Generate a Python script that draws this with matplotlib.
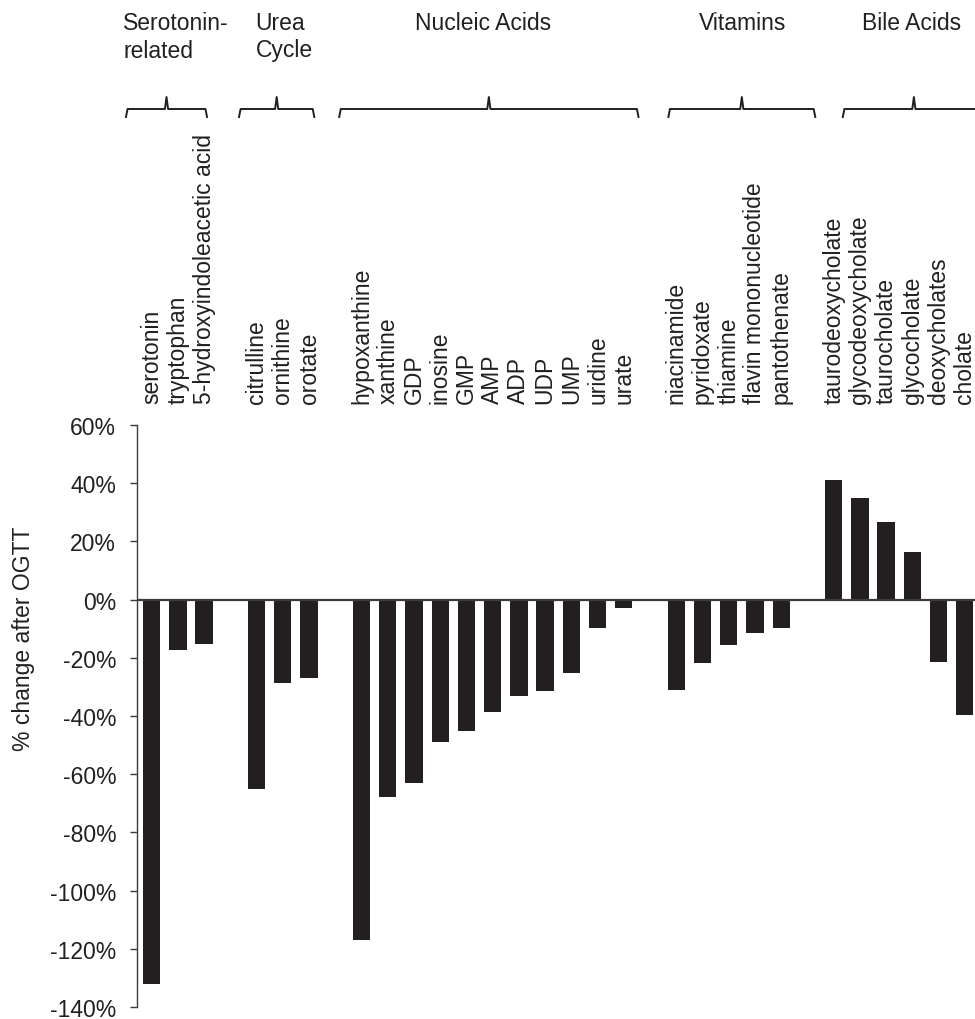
#!/usr/bin/env python3
"""Percent change of plasma metabolites after OGTT, grouped by pathway."""

import matplotlib
matplotlib.use("Agg")
import matplotlib.pyplot as plt
import matplotlib.transforms as mtransforms

# --- data ---------------------------------------------------------------
groups = ["Serotonin-\nrelated", "Urea\nCycle", "Nucleic Acids", "Vitamins", "Bile Acids"]

serotonin_names = ["serotonin", "tryptophan", "5-hydroxyindoleacetic acid"]
serotonin_vals = [-132, -17.3, -15.2]

urea_names = ["citrulline", "ornithine", "orotate"]
urea_vals = [-65, -28.8, -26.8]

nucleic_names = ["hypoxanthine", "xanthine", "GDP", "inosine", "GMP", "AMP",
                 "ADP", "UDP", "UMP", "uridine", "urate"]
nucleic_vals = [-117, -68, -63, -49, -45, -38.6, -33.2, -31.5, -25.3, -9.6, -3.0]

vitamin_names = ["niacinamide", "pyridoxate", "thiamine", "flavin mononucleotide",
                 "pantothenate"]
vitamin_vals = [-31.2, -21.8, -15.5, -11.4, -9.6]

bile_names = ["taurodeoxycholate", "glycodeoxycholate", "taurocholate",
              "glycocholate", "deoxycholates", "cholate"]
bile_vals = [41, 35, 26.5, 16.5, -21.5, -39.5]

yticks = [60, 40, 20, 0, -20, -40, -60, -80, -100, -120, -140]

# --- layout -------------------------------------------------------------
INK = "#231f20"
plt.rcParams["font.family"] = ["Liberation Sans", "DejaVu Sans"]
plt.rcParams["font.size"] = 16.5
plt.rcParams["text.color"] = INK

name_sets = [serotonin_names, urea_names, nucleic_names, vitamin_names, bile_names]
val_sets = [serotonin_vals, urea_vals, nucleic_vals, vitamin_vals, bile_vals]

# one empty slot between groups
xpos, names, vals = [], [], []
slot = 0
for nm, vl in zip(name_sets, val_sets):
    for n, v in zip(nm, vl):
        xpos.append(slot)
        names.append(n)
        vals.append(v)
        slot += 1
    slot += 1

# hand-placed brace extents and title centres (in slot units)
brace_spans = [(-0.98, 2.11), (3.33, 6.2), (7.15, 18.56), (19.7, 25.3), (26.35, 31.77)]
title_x = [0.93, 5.05, 12.62, 22.53, 28.98]

W, H = 975, 1020
fig = plt.figure(figsize=(W / 100, H / 100), dpi=100)
ax = fig.add_axes([137 / W, 12 / H, 838 / W, 582 / H])

ax.bar(xpos, vals, width=0.66, color=INK, zorder=2)
ax.axhline(0, color="#3c3c3c", lw=1.6, zorder=3)

ax.set_xlim(-0.56, 31.39)
ax.set_ylim(-140, 60)
ax.set_yticks(yticks)
ax.set_yticklabels([f"{t}%" for t in yticks])
for s in ["top", "right", "bottom"]:
    ax.spines[s].set_visible(False)
ax.spines["left"].set_color("#3c3c3c")
ax.spines["left"].set_linewidth(1.0)
ax.tick_params(axis="y", direction="out", length=5, width=1.0,
               color="#3c3c3c", pad=10, labelcolor=INK)

ax.set_xticks(xpos)
ax.set_xticklabels(names, rotation=90)
ax.tick_params(axis="x", top=True, bottom=False, labeltop=True,
               labelbottom=False, length=0, pad=16, labelcolor=INK)

ax.set_ylabel("% change after OGTT", color=INK)
ax.yaxis.set_label_coords(-0.122, 0.635)

# group braces and titles
trans = mtransforms.blended_transform_factory(ax.transData, fig.transFigure)
y_line = 1 - 110 / H
y_end = 1 - 118 / H
y_tip = 1 - 98 / H
for (x0, x1), tx, title in zip(brace_spans, title_x, groups):
    xm = (x0 + x1) / 2
    d = 0.06
    ax.plot([x0, x0 + d, xm - d, xm, xm + d, x1 - d, x1],
            [y_end, y_line, y_line, y_tip, y_line, y_line, y_end],
            color=INK, lw=1.4, transform=trans, clip_on=False,
            solid_joinstyle="round")
    fig.text(tx, 1 - 12 / H, title, transform=trans, ha="center", va="top",
             multialignment="left", linespacing=1.25)

fig.savefig("out.png", dpi=100)
